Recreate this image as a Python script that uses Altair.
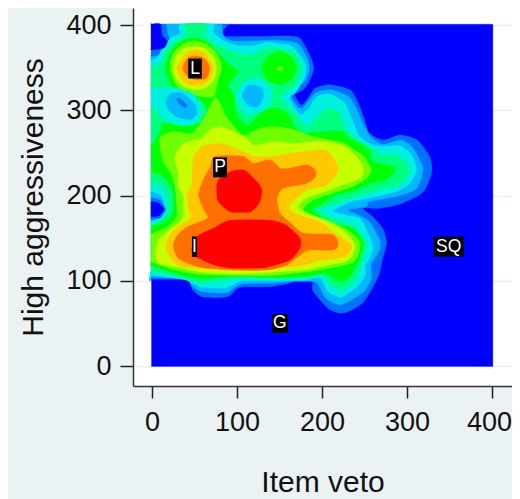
import altair as alt
import pandas as pd

BG = "#EAF2F3"
COLORS = ["#0000FF", "#0070FF", "#00B8FF", "#00F0E0", "#00FF80", "#00FF00",
          "#70FF00", "#C8FF00", "#FFC800", "#FF7000", "#FF0000"]

# contour outlines of the density surface (x, y in data units)
BASE = [(-0.6,-0.5),(401,-0.5),(401,401),(-0.6,401)]
L1_MAIN = [(-1,102),(41,101),(48,89),(60,81),(88,81),(100,91),(109,93),(139,93),(162,97),(170,101),(188,102),(189,89),(198,77),(209,66),(225,62),(248,74),(266,104),(271,124),(276,144),(272,160),(260,175),(248,185),(268,185),(295,191),(319,204),(329,226),(327,245),(312,265),(292,271),(272,265),(256,273),(250,289),(243,308),(233,324),(209,330),(192,326),(186,318),(176,306),(168,318),(178,324),(184,332),(190,347),(188,359),(178,379),(166,387),(85,387),(88,399),(88,401),(5,401),(-1,401),(-1,396),(-1,300),(-1,200),(-1,107)]
L2_MAIN = [(-1,104),(38,102),(48,93),(60,87),(88,86),(104,96),(140,97),(165,99),(190,99),(196,95),(205,79),(223,72),(249,87),(258,103),(258,119),(268,136),(268,148),(256,169),(243,177),(231,183),(252,187),(256,193),(288,199),(311,208),(319,230),(313,246),(305,258),(292,265),(272,260),(258,268),(248,285),(240,303),(230,317),(209,324),(192,320),(175,302),(164,318),(180,335),(185,347),(183,360),(172,378),(150,382),(100,381),(90,383),(84,388),(82,399),(80,401),(20,401),(18,398),(19,388),(23,378),(18,367),(8,364),(-1,363),(-1,357),(-1,250),(-1,108)]
L3_MAIN = [(-1,107),(40,101),(48,97),(60,92),(88,92),(105,100),(140,100),(180,101),(198,103),(207,87),(223,81),(241,93),(251,107),(251,117),(260,136),(256,152),(245,173),(229,177),(213,182),(235,193),(256,197),(288,205),(303,214),(311,230),(305,248),(292,258),(265,258),(252,263),(243,271),(237,285),(227,308),(209,319),(194,316),(184,302),(174,295),(162,314),(170,322),(180,340),(180,355),(165,375),(150,378),(135,380),(120,376),(100,376),(84,382),(72,392),(72,401),(33,401),(33,390),(22,385),(12,372),(6,362),(-1,358),(-1,352),(-1,250),(-1,111)]
L4_MAIN = [(-1,111),(20,107),(45,100),(60,97),(100,103),(140,102),(178,103),(200,105),(207,97),(223,89),(239,101),(247,120),(252,144),(237,165),(213,173),(198,183),(217,191),(241,199),(264,206),(290,212),(301,224),(301,236),(288,247),(268,248),(264,253),(243,265),(231,275),(225,285),(219,298),(207,302),(198,296),(185,283),(178,283),(170,296),(160,306),(152,315),(158,322),(170,330),(176,349),(170,366),(150,373),(135,373),(123,367),(108,365),(90,371),(76,377),(63,388),(63,401),(39,401),(39,388),(27,381),(16,371),(10,355),(-1,350),(-1,344),(-1,250),(-1,115)]
L5_MAIN = [(-1,258),(8,272),(14,285),(37,281),(57,285),(65,300),(57,312),(33,322),(21,332),(16,351),(23,370),(35,381),(51,385),(66,379),(78,367),(92,353),(101,345),(90,330),(96,316),(99,296),(113,283),(129,298),(145,303),(160,296),(168,281),(178,273),(198,275),(223,275),(233,267),(245,261),(256,253),(260,240),(284,234),(286,228),(274,218),(256,214),(237,205),(217,201),(198,189),(188,185),(198,175),(215,167),(237,161),(249,144),(243,124),(233,105),(223,99),(213,103),(202,109),(178,105),(140,104),(100,105),(60,103),(30,108),(-1,118),(-1,124),(-1,190),(-1,254)]
L5_BUMP = [(129,350),(135,362),(150,369),(163,363),(170,350),(165,337),(150,330),(136,335)]
L6_MAIN = [(-1,123),(8,119),(30,112),(60,107),(100,106),(140,106),(178,110),(198,113),(237,122),(245,144),(231,159),(211,169),(190,177),(178,184),(190,195),(213,203),(235,210),(252,220),(258,230),(250,245),(239,253),(225,262),(190,269),(168,277),(146,281),(127,279),(107,271),(88,292),(75,315),(62,292),(47,273),(25,275),(10,269),(10,253),(14,238),(22,226),(27,210),(29,191),(29,175),(18,163),(2,156),(-1,155),(-1,150),(-1,128)]
L6_RING = [(21,351),(25,367),(37,378),(51,381),(65,377),(76,367),(82,351),(78,336),(72,316),(49,318),(33,324),(25,336)]
L6_DOT = [(147,349),(151,352),(154,349),(151,346)]
L7_MAIN = [(4,132),(8,120),(30,116),(60,110),(100,108),(140,110),(182,113),(205,118),(231,124),(239,142),(225,159),(205,171),(182,179),(172,187),(182,197),(205,205),(229,214),(245,220),(249,230),(245,240),(233,253),(225,258),(209,263),(186,263),(166,261),(143,263),(121,259),(111,267),(96,275),(80,281),(68,277),(58,267),(37,261),(27,245),(31,226),(31,210),(37,199),(37,187),(35,171),(18,158),(8,148)]
L7_RING = [(25,349),(29,365),(39,373),(51,375),(63,372),(72,363),(76,349),(72,334),(63,326),(51,324),(37,328),(29,336)]
L8_MAIN = [(16,140),(22,126),(33,117),(60,114),(100,112),(140,114),(178,118),(198,124),(227,128),(235,142),(215,156),(198,169),(168,179),(162,189),(182,206),(205,212),(219,230),(205,253),(166,250),(143,246),(121,246),(99,255),(80,261),(60,259),(54,252),(49,247),(47,226),(47,214),(41,199),(43,183),(45,173),(29,163),(20,152)]
L8_RING = [(29,349),(34,361),(43,369),(51,371),(61,368),(68,359),(72,349),(68,336),(59,330),(49,329),(39,332),(33,339)]
L9_MAIN = [(25,140),(31,126),(49,118),(69,114),(110,112),(139,113),(158,118),(174,130),(186,136),(213,136),(219,142),(213,154),(178,156),(162,169),(151,179),(147,195),(154,208),(182,214),(192,222),(192,230),(182,236),(162,232),(151,232),(139,242),(119,238),(107,246),(74,246),(69,234),(63,224),(57,210),(55,199),(61,183),(65,173),(41,163),(29,152)]
L9_RING = [(36,349),(39,357),(45,363),(57,363),(65,357),(68,349),(65,339),(59,336),(49,336),(41,341)]
L10_UPPER = [(78,218),(92,228),(108,230),(120,220),(129,208),(127,193),(116,181),(92,181),(78,193),(76,206)]
L10_LOWER = [(47,138),(49,130),(69,120),(90,115),(131,115),(139,117),(162,124),(174,138),(174,150),(158,165),(139,171),(92,171),(75,163),(53,152)]
# low pockets inside the surface
TOP_LEFT_POCKET = [(-1,399),(0,401),(10,401),(12,388),(18,381),(14,373),(-1,371),(-1,374)]
WEST_A = [(-1,224),(0,226),(10,224),(20,214),(25,202),(25,183),(18,171),(2,165),(-1,166)]
WEST_B = [(-1,212),(0,214),(12,210),(18,199),(18,183),(12,173),(0,167),(-1,168)]
WEST_C = [(-1,202),(0,204),(10,200),(14,190),(12,178),(0,170),(-1,171)]
WEST_D = [(-1,195),(0,197),(9,195),(16,184),(10,174),(0,172),(-1,173)]
WEST_E = [(-1,191),(0,193),(8,191),(14,184),(8,176),(0,175),(-1,176)]
NW_A = [(-1,324),(0,326),(30,326),(50,318),(58,302),(54,287),(37,283),(15,288),(0,306),(-1,308)]
NW_B = [(16,310),(22,320),(36,320),(50,308),(53,296),(45,289),(30,292),(20,300)]
NW_C = [(29,313),(33,314),(41,306),(39,303),(32,308)]
MID_A = [(100,320),(108,333),(120,338),(135,333),(142,320),(138,306),(125,297),(112,295),(103,305)]
MID_B = [(106,318),(112,328),(120,330),(130,325),(131,314),(124,304),(113,306)]

PAINT_ORDER = [
    (0, BASE), (1, L1_MAIN), (2, L2_MAIN), (3, L3_MAIN), (4, L4_MAIN),
    (5, L5_MAIN), (5, L5_BUMP), (6, L6_MAIN), (6, L6_RING), (6, L6_DOT),
    (7, L7_MAIN), (7, L7_RING), (8, L8_MAIN), (8, L8_RING),
    (9, L9_MAIN), (9, L9_RING), (10, L10_UPPER), (10, L10_LOWER),
    (0, TOP_LEFT_POCKET), (4, WEST_A), (3, WEST_B), (2, WEST_C), (1, WEST_D), (0, WEST_E),
    (3, NW_A), (2, NW_B), (1, NW_C), (3, MID_A), (2, MID_B),
]

LABELS = ["L", "P", "I", "G", "SQ"]
LABEL_X = [50.6, 80, 50, 150.5, 349]
LABEL_Y = [349, 233, 140, 50, 140]
LABEL_HALF_W = [8, 8.2, 3, 9.4, 17.6]
LABEL_HALF_H = [11.7, 11.7, 12, 11, 11.7]

FONT = "Liberation Sans"
xscale = alt.Scale(domain=[-22.35, 423.5], nice=False, zero=False)
yscale = alt.Scale(domain=[-23.46, 420], nice=False, zero=False)
TICKS = [0, 100, 200, 300, 400]

x_axis = alt.Axis(values=TICKS, grid=False, tickSize=12, tickWidth=1.5, tickColor="#222222",
                  domainColor="#333333", domainWidth=1.5, labelFontSize=27, titleFontSize=30,
                  labelFont=FONT, titleFont=FONT, titleFontWeight="normal", labelColor="#111111",
                  titleColor="#111111", labelPadding=11, titlePadding=32, labelFlush=False,
                  labelOffset={"condition": {"test": "datum.value === 400", "value": -3}, "value": 0})
y_axis = alt.Axis(values=TICKS, grid=True, gridColor=BG, gridWidth=1.5, tickSize=13, tickWidth=1.5,
                  tickColor="#222222", domainColor="#333333", domainWidth=1.5, labelFontSize=27,
                  titleFontSize=30, labelFont=FONT, titleFont=FONT, titleFontWeight="normal",
                  labelColor="#111111", titleColor="#111111", labelPadding=9, titlePadding=17,
                  labelFlush=False)

def X(field):
    return alt.X(field, scale=xscale, title="Item veto", axis=x_axis)

def Y(field):
    return alt.Y(field, scale=yscale, title="High aggressiveness", axis=y_axis)

layers = []
for level, pts in PAINT_ORDER:
    df = pd.DataFrame({"x": [p[0] for p in pts], "y": [p[1] for p in pts], "i": range(len(pts))})
    col = COLORS[level]
    curve = "linear-closed" if pts is BASE else "cardinal-closed"
    layers.append(alt.Chart(df).mark_line(fill=col, stroke=col, strokeWidth=0.3, interpolate=curve, tension=0.3).encode(
        x=X("x:Q"), y=Y("y:Q"), order="i:Q"))

lab = pd.DataFrame({"t": LABELS, "x": LABEL_X, "y": LABEL_Y,
                    "x1": [a - b for a, b in zip(LABEL_X, LABEL_HALF_W)],
                    "x2": [a + b for a, b in zip(LABEL_X, LABEL_HALF_W)],
                    "y1": [a - b for a, b in zip(LABEL_Y, LABEL_HALF_H)],
                    "y2": [a + b for a, b in zip(LABEL_Y, LABEL_HALF_H)]})
boxes = alt.Chart(lab).mark_rect(color="black").encode(
    x=X("x1:Q"), x2="x2:Q", y=Y("y1:Q"), y2="y2:Q")
texts = alt.Chart(lab).mark_text(color="white", font=FONT, fontSize=17.5, baseline="middle", align="center").encode(
    x=X("x:Q"), y=Y("y:Q"), text="t:N")

chart = alt.layer(*layers, boxes, texts).properties(
    width=379, height=378, background=BG,
    padding={"left": 125, "top": 0, "right": 0, "bottom": 113},
    autosize=alt.AutoSizeParams(type="none"),
).configure_view(fill="white", stroke=None)

chart.save("out.html", embed_options={"renderer": "svg", "actions": False})
